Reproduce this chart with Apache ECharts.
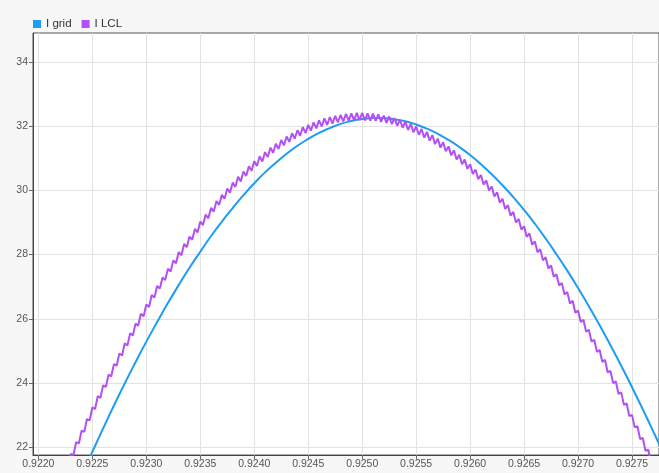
<!DOCTYPE html>
<html>
<head>
<meta charset="utf-8">
<title>I grid / I LCL</title>
<script src="https://cdn.jsdelivr.net/npm/echarts@6/dist/echarts.min.js"></script>
<style>
  html, body { margin: 0; padding: 0; background: #f7f7f7; }
  #chart { width: 659px; height: 473px; }
</style>
</head>
<body>
<div id="chart"></div>
<script>
// Tick positions on each axis
const xTicks = [0.9220, 0.9225, 0.9230, 0.9235, 0.9240, 0.9245, 0.9250, 0.9255, 0.9260, 0.9265, 0.9270, 0.9275];
const yTicks = [22, 24, 26, 28, 30, 32, 34];

// Grid current, sampled every 0.1 ms starting at t = 0.9224 s
const gridStart = 0.9224;
const gridStep = 0.0001;
const iGrid = [
  21.11, 21.86, 22.59, 23.30, 23.99, 24.65, 25.29, 25.90, 26.49, 27.05,
  27.59, 28.09, 28.58, 29.03, 29.45, 29.85, 30.22, 30.56, 30.86, 31.14,
  31.39, 31.60, 31.79, 31.94, 32.07, 32.16, 32.22, 32.25, 32.25, 32.21,
  32.15, 32.05, 31.92, 31.76, 31.57, 31.35, 31.10, 30.81, 30.50, 30.16,
  29.79, 29.39, 28.96, 28.50, 28.01, 27.50, 26.96, 26.39, 25.80, 25.18,
  24.54, 23.87, 23.18, 22.47, 21.74
];

// Inverter-side (LCL) current with switching ripple, sampled every 25 us from t = 0.92225 s
const lclStart = 0.92225;
const lclStep = 0.000025;
const iLCL = [
  21.42, 21.38, 21.79, 21.76, 22.16, 22.12, 22.52, 22.48, 22.88, 22.84, 23.24, 23.19,
  23.59, 23.54, 23.93, 23.88, 24.26, 24.21, 24.59, 24.54, 24.92, 24.86, 25.24, 25.17,
  25.55, 25.48, 25.85, 25.79, 26.16, 26.08, 26.45, 26.37, 26.74, 26.66, 27.02, 26.94,
  27.29, 27.21, 27.56, 27.47, 27.82, 27.73, 28.08, 27.98, 28.33, 28.23, 28.56, 28.46,
  28.80, 28.69, 29.03, 28.92, 29.25, 29.13, 29.46, 29.34, 29.67, 29.55, 29.86, 29.74,
  30.06, 29.93, 30.24, 30.11, 30.42, 30.28, 30.59, 30.45, 30.75, 30.61, 30.91, 30.76,
  31.06, 30.90, 31.19, 31.04, 31.33, 31.17, 31.45, 31.29, 31.57, 31.40, 31.68, 31.51,
  31.78, 31.61, 31.87, 31.70, 31.97, 31.78, 32.04, 31.86, 32.12, 31.93, 32.18, 31.99,
  32.24, 32.04, 32.28, 32.08, 32.32, 32.12, 32.35, 32.15, 32.38, 32.17, 32.40, 32.18,
  32.41, 32.19, 32.41, 32.18, 32.40, 32.17, 32.39, 32.16, 32.37, 32.13, 32.33, 32.10,
  32.30, 32.06, 32.25, 32.01, 32.20, 31.95, 32.14, 31.88, 32.07, 31.81, 31.99, 31.73,
  31.91, 31.64, 31.82, 31.55, 31.72, 31.44, 31.61, 31.33, 31.50, 31.22, 31.37, 31.09,
  31.25, 30.96, 31.11, 30.81, 30.96, 30.67, 30.81, 30.51, 30.65, 30.35, 30.48, 30.18,
  30.31, 30.00, 30.12, 29.81, 29.94, 29.62, 29.74, 29.42, 29.54, 29.21, 29.33, 29.00,
  29.11, 28.78, 28.88, 28.55, 28.66, 28.31, 28.41, 28.07, 28.17, 27.82, 27.92, 27.57,
  27.66, 27.31, 27.39, 27.04, 27.12, 26.76, 26.84, 26.48, 26.56, 26.19, 26.26, 25.90,
  25.97, 25.60, 25.66, 25.29, 25.35, 24.97, 25.03, 24.66, 24.72, 24.33, 24.38, 24.00,
  24.05, 23.66, 23.71, 23.32, 23.37, 22.97, 23.01, 22.62, 22.66, 22.26, 22.29, 21.89,
  21.93, 21.52, 21.55, 21.15, 21.18
];

function toPairs(start, step, values) {
  return values.map((v, i) => [start + i * step, v]);
}

const FONT = 'Liberation Sans, Arial, sans-serif';
const chart = echarts.init(document.getElementById('chart'), null, { renderer: 'canvas' });

chart.setOption({
  animation: false,
  backgroundColor: '#f7f7f7',
  textStyle: { fontFamily: FONT },
  legend: {
    left: 28,
    top: 13,
    icon: 'rect',
    itemWidth: 8,
    itemHeight: 8,
    itemGap: 10,
    textStyle: { fontSize: 11.5, color: '#333', fontFamily: FONT },
    data: ['I grid', 'I LCL']
  },
  grid: {
    left: 33,
    right: 0,
    top: 33,
    bottom: 18,
    show: true,
    backgroundColor: '#ffffff',
    borderColor: '#555',
    borderWidth: 1
  },
  xAxis: {
    type: 'value',
    min: 0.92195,
    max: 0.92775,
    axisLine: { show: true, lineStyle: { color: '#444' } },
    axisTick: { show: true, length: 4, lineStyle: { color: '#666' }, customValues: xTicks },
    axisLabel: {
      customValues: xTicks,
      formatter: v => v.toFixed(4),
      fontSize: 10.5,
      color: '#555',
      margin: 4,
      fontFamily: FONT
    },
    splitLine: { show: true, lineStyle: { color: '#e2e2e2', width: 1 } }
  },
  yAxis: {
    type: 'value',
    min: 21.76,
    max: 34.9,
    axisLine: { show: true, lineStyle: { color: '#444' } },
    axisTick: { show: true, length: 4, lineStyle: { color: '#666' }, customValues: yTicks },
    axisLabel: {
      customValues: yTicks,
      fontSize: 10.5,
      color: '#555',
      margin: 5,
      fontFamily: FONT
    },
    splitLine: { show: true, lineStyle: { color: '#e2e2e2', width: 1 } }
  },
  series: [
    {
      name: 'I grid',
      type: 'line',
      data: toPairs(gridStart, gridStep, iGrid),
      smooth: true,
      showSymbol: false,
      color: '#1c9cf2',
      lineStyle: { width: 2, color: '#1c9cf2' },
      clip: true
    },
    {
      name: 'I LCL',
      type: 'line',
      data: toPairs(lclStart, lclStep, iLCL),
      showSymbol: false,
      color: '#b34ff7',
      lineStyle: { width: 2, color: '#b34ff7' },
      clip: true
    }
  ]
});
</script>
</body>
</html>
